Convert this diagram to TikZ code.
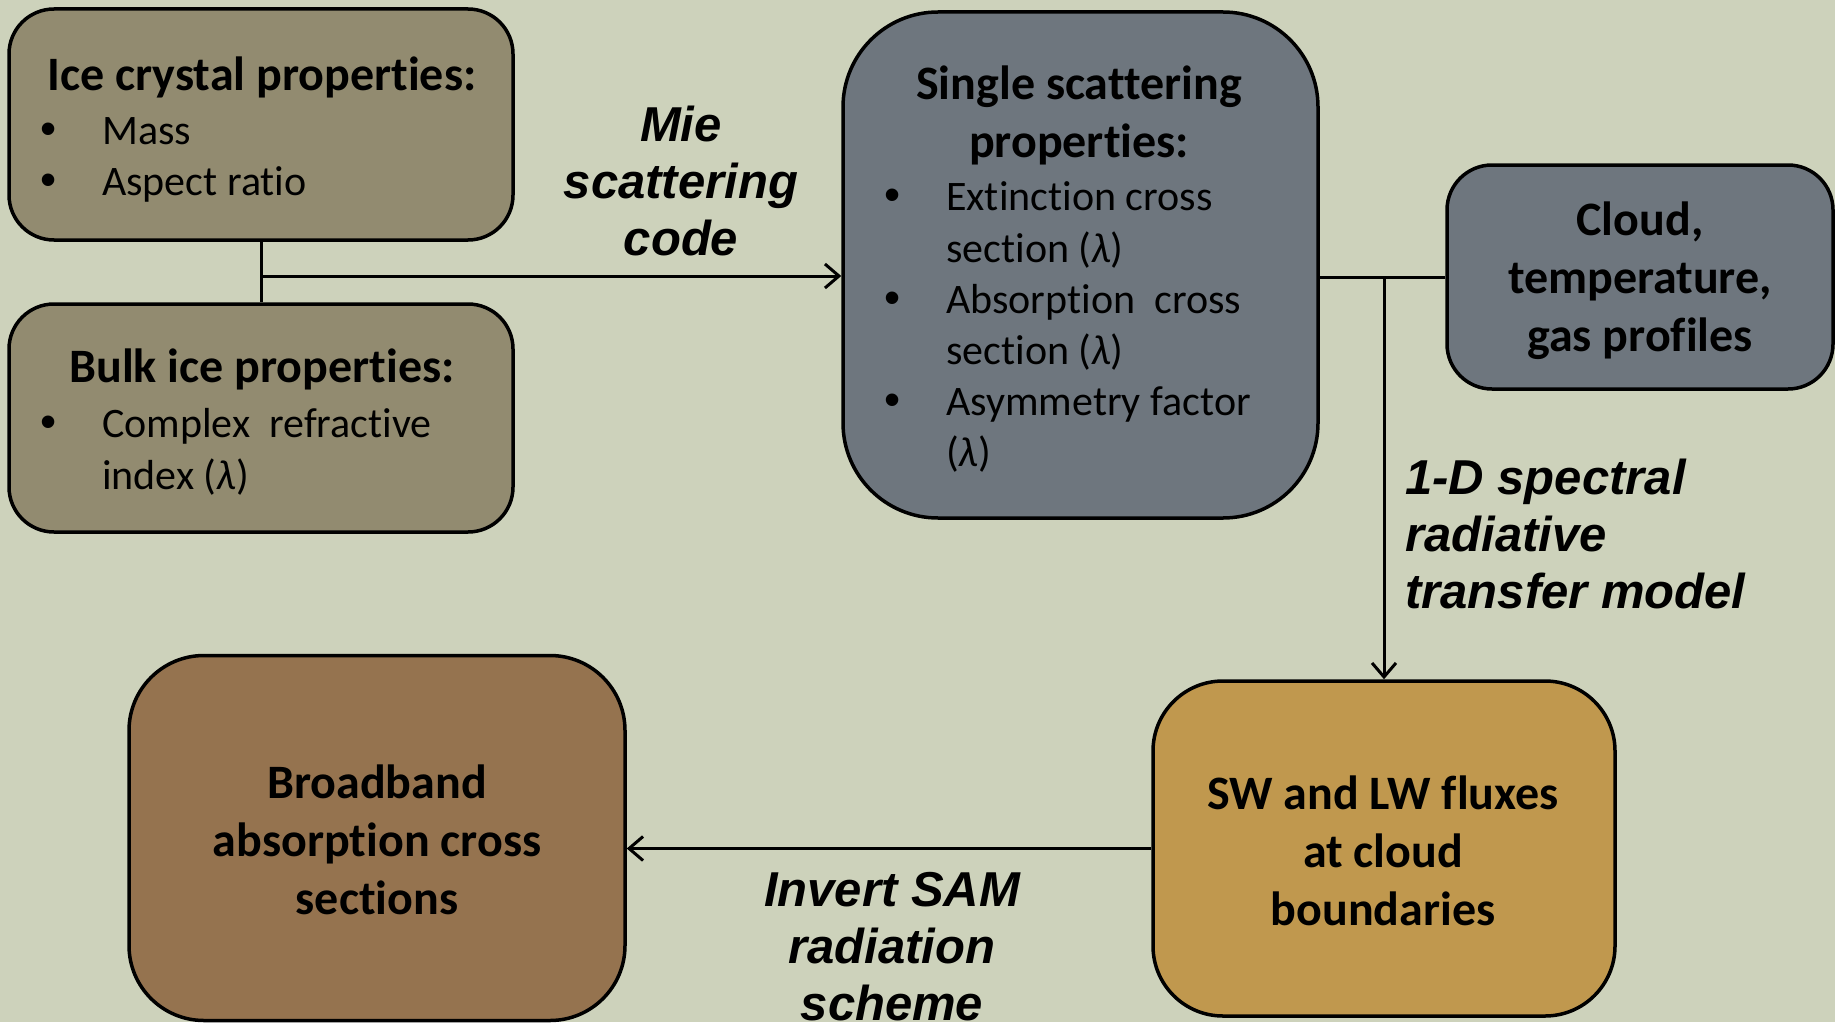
\documentclass[tikz,border=0pt]{standalone}
\usepackage{fontspec}
\setmainfont{Carlito}[Ligatures=NoCommon]
\newfontfamily\lblfont{Liberation Sans}
\usetikzlibrary{arrows.meta}
\definecolor{bgc}{RGB}{205,210,187}
\definecolor{olivebox}{RGB}{146,139,112}
\definecolor{slatebox}{RGB}{110,118,126}
\definecolor{goldbox}{RGB}{192,152,78}
\definecolor{brownbox}{RGB}{149,115,79}
\begin{document}
\begin{tikzpicture}[x=1pt,y=-1pt,
  box/.style={draw=black, line width=3.5pt, inner sep=0pt, minimum width=#1},
  hd/.style={font=\fontsize{48}{58}\selectfont\bfseries, inner sep=0pt, align=center},
  bd/.style={font=\fontsize{42}{51}\selectfont, inner sep=0pt, anchor=mid west},
  bul/.style={font=\lblfont\fontsize{46}{48}\selectfont, inner sep=0pt, anchor=mid},
  lbl/.style={font=\lblfont\fontsize{49}{57}\selectfont\bfseries\itshape, inner sep=0pt},
  conn/.style={line width=3pt},
  arr/.style={line width=3pt, -{Straight Barb[length=14pt,width=24pt,line width=3pt]}}]
\useasboundingbox (0,0) rectangle (1835,1022);
\fill[bgc] (0,0) rectangle (1835,1022);

% boxes
\node[box=504pt, minimum height=231pt, fill=olivebox, rounded corners=45pt] (b1) at (261,124.5) {};
\node[box=504pt, minimum height=228pt, fill=olivebox, rounded corners=45pt] (b2) at (261,418) {};
\node[box=475pt, minimum height=506pt, fill=slatebox, rounded corners=95pt] (b3) at (1080.5,265) {};
\node[box=386pt, minimum height=224pt, fill=slatebox, rounded corners=45pt] (b4) at (1640,277) {};
\node[box=462pt, minimum height=335pt, fill=goldbox, rounded corners=70pt] (b5) at (1384,848.5) {};
\node[box=496pt, minimum height=365pt, fill=brownbox, rounded corners=75pt] (b6) at (377,838) {};

% box 1 text
\node[hd, anchor=mid] (t1h) at (262,88) {Ice crystal properties:};
\node[bul] (t1a) at (49,142) {•};
\node[bd] (t1al) at (102,142) {Mass};
\node[bul] (t1b) at (49,193) {•};
\node[bd] (t1bl) at (102,193) {Aspect ratio};

% box 2 text
\node[hd, anchor=mid] (t2h) at (262,380) {Bulk ice properties:};
\node[bul] (t2a) at (49,435) {•};
\node[bd] (t2al) at (102,435) {Complex\ \ refractive};
\node[bd] (t2bl) at (102,487) {index ({\itshape λ})};

% box 3 text
\node[hd, anchor=mid] (t3h) at (1079,97) {Single scattering};
\node[hd, anchor=mid] (t3h2) at (1079,155) {properties:};
\node[bul] (t3a) at (893,208) {•};
\node[bd] (t3al) at (946,208) {Extinction cross};
\node[bd] (t3al2) at (946,260) {section ({\itshape λ})};
\node[bul] (t3b) at (893,311) {•};
\node[bd] (t3bl) at (946,311) {Absorption\ \ cross};
\node[bd] (t3bl2) at (946,362) {section ({\itshape λ})};
\node[bul] (t3c) at (893,413) {•};
\node[bd] (t3cl) at (946,413) {Asymmetry factor};
\node[bd] (t3cl2) at (946,464) {({\itshape λ})};

% box 4, 5, 6 text
\node[hd] (t4) at (1640,281) {Cloud,\\temperature,\\gas profiles};
\node[hd] (t5) at (1383,851) {SW and LW fluxes\\at cloud\\boundaries};
\node[hd] (t6) at (377,840) {Broadband\\absorption cross\\sections};

% connectors
\draw[conn] (b1.south) -- (b2.north);
\coordinate (j1) at (262,276);
\draw[arr] (j1) -- (j1 -| b3.west);
\draw[conn] (b4.west) -- (b4.west -| b3.east);
\coordinate (j2) at (1384,277);
\draw[arr] (j2) -- (b5.north);
\draw[arr] (b5.west) -- (b5.west -| b6.east);

% labels
\node[lbl, align=center] (l1) at (681,181) {Mie\\scattering\\code};
\node[lbl, align=left, anchor=west] (l2) at (1405,534) {1-D spectral\\radiative\\transfer model};
\node[lbl, align=center] (l3) at (892,947) {Invert SAM\\radiation\\scheme};
\end{tikzpicture}
\end{document}
